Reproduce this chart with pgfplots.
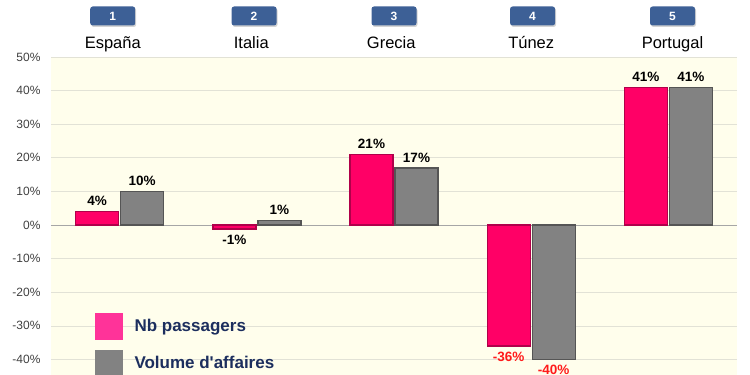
\documentclass[border=0pt]{standalone}
\usepackage{fontspec}
\setmainfont{Liberation Sans}
\usepackage{pgfplots}
\pgfplotsset{compat=1.18}
\usetikzlibrary{shadows}
\definecolor{barpink}{HTML}{FF0066}
\definecolor{barpinkdk}{HTML}{B0004A}
\definecolor{legpink}{HTML}{FF3399}
\definecolor{bargray}{HTML}{828282}
\definecolor{bargraydk}{HTML}{555555}
\definecolor{bgivory}{HTML}{FFFEEC}
\definecolor{gridc}{HTML}{E2E2D6}
\definecolor{navy}{HTML}{1C2E5E}
\definecolor{boxblue}{HTML}{3D6096}
\definecolor{labred}{HTML}{FF1A1A}
\begin{document}
\begin{tikzpicture}
\begin{axis}[
  at={(51pt,0pt)}, anchor=south west,
  scale only axis, width=686pt, height=318pt,
  xmin=-0.5, xmax=4.5, ymin=-44.64, ymax=50,
  ybar, bar width=43pt,
  axis line style={draw=none},
  major tick length=0pt, minor tick length=0pt,
  xtick=\empty, minor xtick={0.5,1.5,2.5,3.5}, xminorgrids,
  ytick={-40,-30,...,50}, ymajorgrids,
  grid style={gridc, line width=0.6pt},
  minor grid style={gridc, line width=0.6pt},
  extra y ticks={0}, extra y tick labels={},
  extra y tick style={grid style={black!35, line width=0.9pt}},
  yticklabel={\pgfmathprintnumber{\tick}\%},
  yticklabel style={font=\fontsize{12}{12}\selectfont, text=black!75, xshift=-7pt},
  /pgf/number format/assume math mode=true,
  axis background/.style={fill=bgivory},
  clip=false,
  visualization depends on={y \as \rawy},
  nodes near coords={\pgfmathtruncatemacro\isneg{\rawy<-10}\ifnum\isneg=1 \color{labred}\fi\pgfmathprintnumber[fixed,precision=0]{\rawy}\%},
  every node near coord/.append style={font=\bfseries\fontsize{13.5}{13.5}\selectfont, text=black, inner sep=5pt},
  legend style={draw=none, fill=none, at={(0.064,0.195)}, anchor=north west,
    inner sep=0pt, row sep=10pt, font=\bfseries\fontsize{17}{17}\selectfont, text=navy,
    nodes={inner sep=0pt}, /tikz/every odd column/.append style={column sep=12pt}},
  legend cell align=left,
]
\addplot[fill=barpink, draw=barpinkdk, line width=1.4pt,
  legend image code/.code={\fill[legpink] (0pt,-12.5pt) rectangle (26pt,12.5pt);}]
  coordinates {(0,4) (1,-1.2) (2,21) (3,-36) (4,41)};
\addplot[fill=bargray, draw=bargraydk, line width=1.4pt,
  legend image code/.code={\fill[bargray] (0pt,-12.5pt) rectangle (26pt,12.5pt);}]
  coordinates {(0,10) (1,1.4) (2,17) (3,-40) (4,41)};
\legend{Nb passagers, Volume d\textquotesingle affaires}

\tikzset{hdr/.style={anchor=base, yshift=8pt, font=\fontsize{16.5}{16.5}\selectfont},
  bx/.style={fill=boxblue, rounded corners=2.5pt, minimum width=45pt, minimum height=19pt,
    text=white, font=\bfseries\fontsize{12}{12}\selectfont, yshift=41pt,
    drop shadow={shadow xshift=1pt, shadow yshift=-1.5pt, opacity=0.35}}}
\node[hdr] at (axis cs:-0.05,50) {España};
\node[hdr] at (axis cs:0.96,50) {Italia};
\node[hdr] at (axis cs:1.98,50) {Grecia};
\node[hdr] at (axis cs:3.0,50) {Túnez};
\node[hdr] at (axis cs:4.03,50) {Portugal};
\node[bx] at (axis cs:-0.05,50) {1};
\node[bx] at (axis cs:0.98,50) {2};
\node[bx] at (axis cs:2.0,50) {3};
\node[bx] at (axis cs:3.01,50) {4};
\node[bx] at (axis cs:4.03,50) {5};
\end{axis}
\pgfresetboundingbox
\path (0pt,0pt) rectangle (750pt,375pt);
\end{tikzpicture}
\end{document}
